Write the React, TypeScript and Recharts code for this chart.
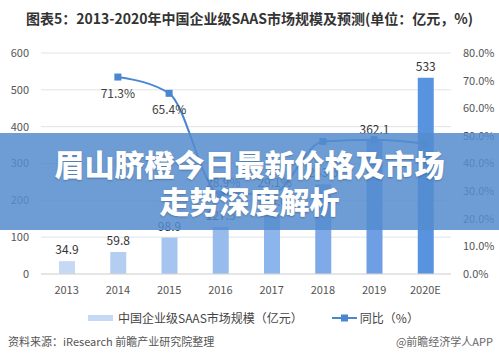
import {
  ComposedChart,
  Bar,
  Line,
  XAxis,
  YAxis,
  CartesianGrid,
  Cell,
  LabelList
} from "recharts";

const years = ["2013", "2014", "2015", "2016", "2017", "2018", "2019", "2020E"];
const marketSize = [34.9, 59.8, 98.9, 127.5, 164.6, 243.6, 362.1, 533];
const growth = [null, 71.3, 65.4, 28.9, 29.1, 48.0, 48.6, 47.2];
const leftTicks = [0, 100, 200, 300, 400, 500, 600];
const rightTicks = [0, 10, 20, 30, 40, 50, 60, 70, 80];

const barColors = [
  "#c5d9f4",
  "#b4cef1",
  "#a5c4ef",
  "#97bbed",
  "#8cb5ec",
  "#7eaae8",
  "#6e9fe4",
  "#5893e0"
];

const data = years.map((year, i) => ({
  year,
  size: marketSize[i],
  growth: growth[i]
}));

const FONT = '"Noto Sans CJK SC", "Noto Sans", sans-serif';
const LINE_COLOR = "#4a86d2";

// square markers like the Excel original
const SquareDot = (props: any) => {
  const { cx, cy, value } = props;
  if (value == null || cx == null || cy == null) return null;
  return <rect x={cx - 3.5} y={cy - 3.5} width={7} height={7} fill={LINE_COLOR} />;
};

// only the first four growth labels are shown in the original
const GrowthLabel = (props: any) => {
  const { x, y, value, index } = props;
  if (value == null) return null;
  let dy = 0;
  let dx = 0;
  if (index === 1 || index === 2) dy = 21;
  else if (index === 3 || index === 4) {
    dy = -7;
    dx = 3;
  } else return null;
  return (
    <text
      x={x + dx}
      y={y + dy}
      textAnchor="middle"
      fontSize={12}
      fill="#404040"
      fontFamily={FONT}
    >
      {value.toFixed(1)}%
    </text>
  );
};

export default function App() {
  return (
    <div
      style={{
        position: "absolute",
        left: 0,
        top: 0,
        width: 499,
        height: 363,
        background: "#fff",
        fontFamily: FONT,
        overflow: "hidden"
      }}
    >
      <div
        style={{
          position: "absolute",
          top: 8,
          left: 0,
          width: 499,
          textAlign: "center",
          fontSize: 14,
          fontWeight: 700,
          color: "#333",
          whiteSpace: "nowrap"
        }}
      >
        图表5：2013-2020年中国企业级SAAS市场规模及预测(单位：亿元，%)
      </div>

      <div style={{ position: "absolute", top: 0, left: 0 }}>
        <ComposedChart
          width={499}
          height={300}
          data={data}
          margin={{ top: 53, right: 0, left: 0, bottom: 0 }}
        >
          <CartesianGrid vertical={false} stroke="#e3e3e3" yAxisId="left" />
          <XAxis
            dataKey="year"
            height={26}
            tickLine={false}
            axisLine={{ stroke: "#d9d9d9" }}
            tickMargin={6}
            tick={{ fontSize: 11, fill: "#555", fontFamily: FONT }}
            interval={0}
          />
          <YAxis
            yAxisId="left"
            width={41}
            domain={[0, 600]}
            ticks={leftTicks}
            tickLine={false}
            axisLine={false}
            tickMargin={6}
            tick={{ fontSize: 11, fill: "#555", fontFamily: FONT }}
          />
          <YAxis
            yAxisId="right"
            orientation="right"
            width={48}
            domain={[0, 80]}
            ticks={rightTicks}
            tickLine={false}
            axisLine={false}
            tickMargin={6}
            tickFormatter={(v: number) => `${v.toFixed(1)}%`}
            tick={{ fontSize: 11, fill: "#555", fontFamily: FONT }}
          />
          <Bar
            yAxisId="left"
            dataKey="size"
            barSize={16}
            isAnimationActive={false}
          >
            {data.map((d, i) => (
              <Cell key={d.year} fill={barColors[i]} />
            ))}
            <LabelList
              dataKey="size"
              position="top"
              offset={7}
              fontSize={12}
              fill="#333"
              fontFamily={FONT}
            />
          </Bar>
          <Line
            yAxisId="right"
            type="monotone"
            dataKey="growth"
            stroke={LINE_COLOR}
            strokeWidth={2}
            dot={<SquareDot />}
            activeDot={false}
            connectNulls
            isAnimationActive={false}
          >
            <LabelList dataKey="growth" content={<GrowthLabel />} />
          </Line>
        </ComposedChart>
      </div>

      {/* legend */}
      <div
        style={{
          position: "absolute",
          top: 309,
          left: 88,
          display: "flex",
          alignItems: "center",
          fontSize: 12,
          color: "#444",
          whiteSpace: "nowrap"
        }}
      >
        <span style={{ display: "inline-block", width: 25, height: 6, background: "#c5d9f4", marginRight: 5 }} />
        <span>中国企业级SAAS市场规模（亿元）</span>
        <svg width={25} height={10} style={{ marginLeft: 29, marginRight: 3 }}>
          <line x1={0} y1={5} x2={25} y2={5} stroke={LINE_COLOR} strokeWidth={2} />
          <rect x={9} y={1.5} width={7} height={7} fill={LINE_COLOR} />
        </svg>
        <span>同比（%）</span>
      </div>

      {/* source line */}
      <div
        style={{
          position: "absolute",
          top: 333,
          left: 8,
          fontSize: 11,
          color: "#555",
          whiteSpace: "nowrap"
        }}
      >
        资料来源：iResearch 前瞻产业研究院整理
      </div>
      <div
        style={{
          position: "absolute",
          top: 333,
          right: 6,
          fontSize: 11,
          color: "#666",
          whiteSpace: "nowrap"
        }}
      >
        @前瞻经济学人APP
      </div>

      {/* headline banner over the chart */}
      <div
        style={{
          position: "absolute",
          top: 133,
          left: 0,
          width: 499,
          height: 97,
          background: "rgba(85,140,207,0.85)",
          display: "flex",
          flexDirection: "column",
          alignItems: "center",
          justifyContent: "center",
          color: "#fff",
          fontSize: 30,
          fontWeight: 900,
          lineHeight: "37px",
          textShadow: "0 1px 2px rgba(0,0,0,0.25)"
        }}
      >
        <div>眉山脐橙今日最新价格及市场</div>
        <div>走势深度解析</div>
      </div>
    </div>
  );
}
